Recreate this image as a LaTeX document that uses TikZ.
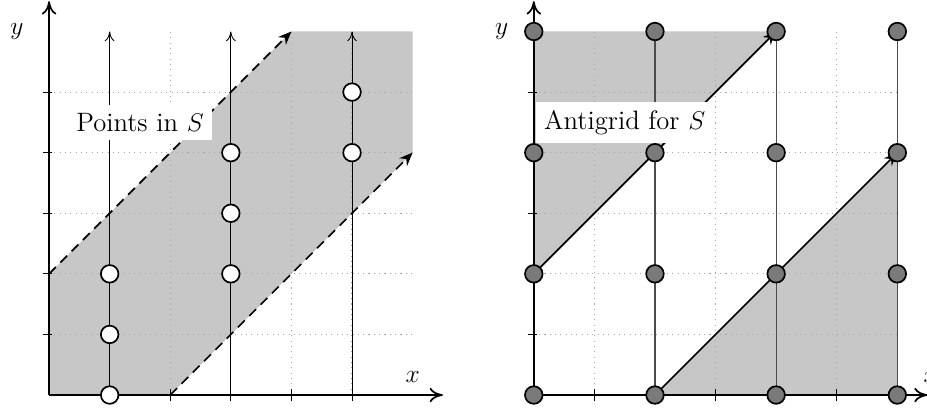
\documentclass[tikz,border=0pt]{standalone}
\usetikzlibrary{arrows.meta}
\begin{document}
\begin{tikzpicture}[
  gridline/.style={gray!70, dotted, line width=0.5pt},
  axis/.style={thick, -{To[length=2.2mm,width=2.4mm]}},
  tickmark/.style={thin},
  vline/.style={thin, -{To[length=1.6mm,width=1.6mm]}},
  dasharrow/.style={thick, dash pattern=on 4.5pt off 3pt, -{Stealth[length=2.2mm,width=1.8mm]}},
  solarrow/.style={thick, -{Stealth[length=2.2mm,width=1.8mm]}},
  pt/.style={circle, draw=black, thick, fill=white, minimum size=2.9mm, inner sep=0pt},
  gpt/.style={circle, draw=black, thick, fill=black!52, minimum size=2.9mm, inner sep=0pt},
  lbl/.style={fill=white, font=\fontsize{12.5}{15}\selectfont, inner sep=4pt},
  axlbl/.style={font=\large}
]
\useasboundingbox (-0.81,-0.215) rectangle (14.49,6.52);

% ---------------- Left panel ----------------
\begin{scope}
  \fill[black!22] (0,0) -- (2,0) -- (6,4) -- (6,6) -- (4,6) -- (0,2) -- cycle;
  \foreach \i in {1,...,5} {
    \draw[gridline] (\i,0) -- (\i,6);
    \draw[gridline] (0,\i) -- (6,\i);
  }
  \foreach \i in {1,...,5} {
    \draw[tickmark] (\i,-0.1) -- (\i,0.1);
    \draw[tickmark] (-0.1,\i) -- (0.05,\i);
  }
  \coordinate (La) at (0,2);
  \coordinate (Lb) at (4,6);
  \coordinate (Lc) at (2,0);
  \coordinate (Ld) at (6,4);
  \draw[dasharrow] (La) -- (Lb);
  \draw[dasharrow] (Lc) -- (Ld);
  \foreach \x in {1,3,5} {
    \coordinate (Lv\x b) at (\x,0);
    \coordinate (Lv\x t) at (\x,6);
    \draw[vline] (Lv\x b) -- (Lv\x t);
  }
  \node[lbl] (Llabel) at (1.5,4.5) {Points in $S$};
  \coordinate (LO) at (0,0);
  \coordinate (LX) at (6.5,0);
  \coordinate (LY) at (0,6.5);
  \draw[axis] (LO) -- (LX);
  \draw[axis] (LO) -- (LY);
  \node[axlbl] (Lxl) at (6,0.3) {$x$};
  \node[axlbl] (Lyl) at (-0.53,6) {$y$};
  \foreach \p/\x/\y in {a/1/0, b/1/1, c/1/2, d/3/2, e/3/3, f/3/4, g/5/4, h/5/5}
    \node[pt] (P\p) at (\x,\y) {};
\end{scope}

% ---------------- Right panel ----------------
\begin{scope}[xshift=8cm]
  \fill[black!22] (0,2) -- (4,6) -- (0,6) -- cycle;
  \fill[black!22] (2,0) -- (6,4) -- (6,0) -- cycle;
  \foreach \i in {1,...,5} {
    \draw[gridline] (\i,0) -- (\i,6);
    \draw[gridline] (0,\i) -- (6,\i);
  }
  \foreach \i in {1,3,5} {
    \draw[tickmark] (\i,-0.1) -- (\i,0.1);
    \draw[tickmark] (-0.1,\i) -- (0.05,\i);
  }
  \foreach \x in {2,4,6} {
    \coordinate (Rv\x b) at (\x,0);
    \coordinate (Rv\x t) at (\x,6);
    \draw[black!70, semithick] (Rv\x b) -- (Rv\x t);
  }
  \coordinate (Ra) at (0,2);
  \coordinate (Rb) at (4,6);
  \coordinate (Rc) at (2,0);
  \coordinate (Rd) at (6,4);
  \draw[solarrow] (Ra) -- (Rb);
  \draw[solarrow] (Rc) -- (Rd);
  \node[lbl] (Rlabel) at (1.5,4.5) {Antigrid for $S$};
  \coordinate (RO) at (0,0);
  \coordinate (RX) at (6.5,0);
  \coordinate (RY) at (0,6.5);
  \draw[axis] (RO) -- (RX);
  \draw[axis] (RO) -- (RY);
  \node[axlbl] (Rxl) at (6.55,0.3) {$x$};
  \node[axlbl] (Ryl) at (-0.53,6) {$y$};
  \foreach \x in {0,2,4,6}
    \foreach \y in {0,2,4,6}
      \node[gpt] (G\x\y) at (\x,\y) {};
\end{scope}
\end{tikzpicture}
\end{document}
